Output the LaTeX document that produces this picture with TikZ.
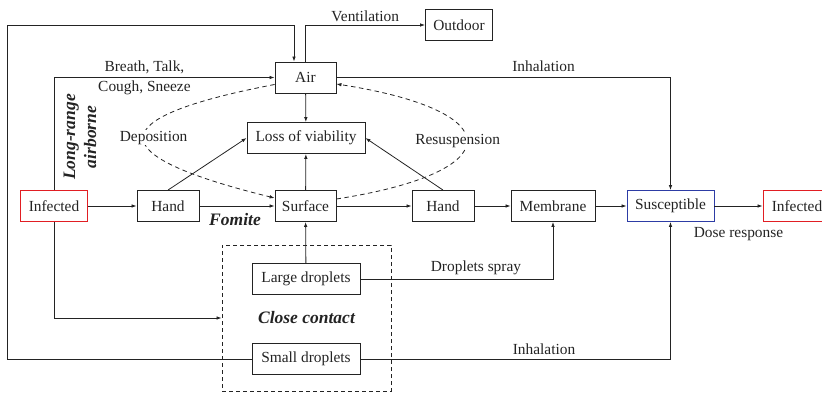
\documentclass[tikz,border=0pt]{standalone}
\usepackage{fontspec}
\setmainfont{Liberation Serif}
\usepackage{tikz}
\usetikzlibrary{arrows.meta, positioning}
\definecolor{mydark}{RGB}{35,35,35}
\definecolor{infred}{RGB}{225,30,35}
\definecolor{susblue}{RGB}{45,60,165}
\tikzset{
  box/.style={rectangle, draw=mydark, minimum height=31pt, inner sep=0pt,
    font=\fontsize{15.4}{20}\selectfont, text=mydark, line width=0.9pt},
  ccbox/.style={rectangle, draw=mydark, dashed, dash pattern=on 4pt off 3pt,
    minimum width=169pt, minimum height=146pt, line width=0.9pt,
    font=\fontsize{17.5}{21}\selectfont\bfseries\itshape, text=mydark},
  arrow/.style={-{Latex[length=5pt,width=3.6pt]}, line width=0.8pt, color=mydark},
  dasharrow/.style={arrow, dashed, dash pattern=on 4.5pt off 3.5pt},
  lbl/.style={font=\fontsize{15.4}{20}\selectfont, text=mydark, inner sep=1pt},
  bilbl/.style={font=\fontsize{17.5}{21}\selectfont\bfseries\itshape, text=mydark, inner sep=1pt}
}

\begin{document}
\begin{tikzpicture}[x=1pt, y=-1pt]
    \useasboundingbox (0,0) rectangle (822,393);
    \clip (0,0) rectangle (822,393);
    % Boxes
    \node[box, minimum width=61pt] (air) at (305.5,77.5) {Air};
    \node[box, minimum width=67pt] (outdoor) at (459,25) {Outdoor};
    \node[box, minimum width=118pt] (loss) at (306,138) {Loss of viability};
    \node[box, draw=infred, minimum width=67pt] (inf1) at (54,206) {Infected};
    \node[box, minimum width=62pt] (hand1) at (168,206) {Hand};
    \node[box, minimum width=61pt] (surf) at (305.5,206) {Surface};
    \node[box, minimum width=62pt] (hand2) at (443,206) {Hand};
    \node[box, minimum width=84pt] (memb) at (553,206) {Membrane};
    \node[box, draw=susblue, minimum width=87pt] (susc) at (670.5,206) {Susceptible};
    \node[box, draw=infred, minimum width=68pt] (inf2) at (797,206) {Infected};
    \node[ccbox] (close) at (306.5,318) {Close contact};
    \node[box, minimum width=108pt] (large) at (306,279) {Large droplets};
    \node[box, minimum width=108pt] (small) at (306,359) {Small droplets};
    \coordinate (corner) at (7,25);
    % Main chain
    \draw[arrow] (inf1) -- (hand1);
    \draw[arrow] (hand1) -- (surf) node[bilbl, midway, below=6pt, xshift=-2pt] {Fomite};
    \draw[arrow] (surf) -- (hand2);
    \draw[arrow] (hand2) -- (memb);
    \draw[arrow] (memb) -- (susc);
    \draw[arrow] (susc) -- (inf2) node[lbl, midway, below=20pt] {Dose response};
    % Loss of viability
    \draw[arrow] (air) -- (loss);
    \draw[arrow] (surf) -- (loss);
    \draw[arrow] (hand1.north) -- (loss.west);
    \draw[arrow] (hand2.north) -- (loss.east);
    \draw[arrow] (large) -- (surf);
    % Air routes
    \draw[arrow] (air.north) |- (outdoor.west) node[lbl, pos=0.75, above=2pt] {Ventilation};
    \draw[arrow] (small.west) -| (corner) -| ([xshift=-11.5pt]air.north);
    \draw[arrow] (inf1.north) |- (air.west)
      node[lbl, pos=0.705, align=center] {Breath, Talk,\\Cough, Sneeze};
    \node[bilbl, rotate=90, align=center] (lra) at (80,137) {Long-range\\airborne};
    \draw[arrow] (air.east) -| (susc.north) node[lbl, pos=0.31, above=4pt] {Inhalation};
    % Dashed exchange
    \draw[dasharrow] ([yshift=-7pt]air.west) .. controls (100,118) and (100,155) ..
      ([yshift=8pt]surf.west) node[lbl, pos=0.5, fill=white, xshift=10pt] {Deposition};
    \draw[dasharrow] ([yshift=7pt]surf.east) .. controls (510,172) and (510,111) ..
      ([yshift=-6.5pt]air.east) node[lbl, pos=0.5, fill=white, xshift=-9pt] {Resuspension};
    % Close contact
    \draw[arrow] (inf1.south) |- (close.west);
    \draw[arrow] (large.east) -| (memb.south) node[lbl, pos=0.3, above=3pt] {Droplets spray};
    \draw[arrow] (small.east) -| (susc.south) node[lbl, pos=0.296, above=3pt] {Inhalation};
\end{tikzpicture}
\end{document}
